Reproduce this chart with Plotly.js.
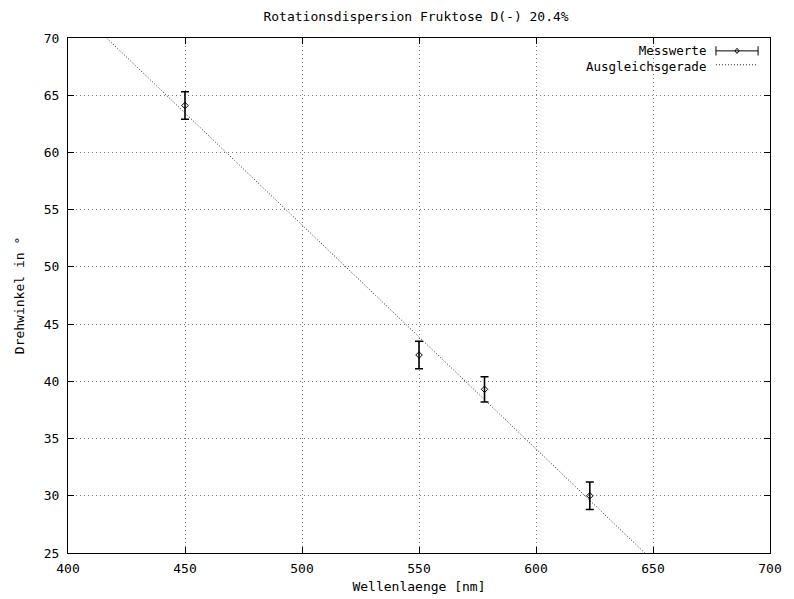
<!DOCTYPE html>
<html><head><meta charset="utf-8">
<script src="https://cdn.plot.ly/plotly-3.0.1.min.js"></script>
<style>body{margin:0;background:#fff}#plot{width:794px;height:599px}</style>
</head><body><div id="plot"></div>
<script>
var wavelength = [450, 550, 578, 623];
var angle = [64.1, 42.3, 39.3, 30.0];
var angleErr = [1.2, 1.2, 1.1, 1.2];
var fitX = [416.5, 646.5];
var fitY = [70, 25];
var xTicks = [400, 450, 500, 550, 600, 650, 700];
var yTicks = [25, 30, 35, 40, 45, 50, 55, 60, 65, 70];

var F = {family: 'DejaVu Sans Mono, monospace', size: 13, color: '#000'};
var FL = {family: 'DejaVu Sans Mono, monospace', size: 12.5, color: '#000'};
var traces = [
  {x: fitX, y: fitY, type: 'scatter', mode: 'lines', name: 'Ausgleichsgerade',
   line: {color: '#222', width: 1, dash: '1px,2px'}, showlegend: false},
  {x: wavelength, y: angle, type: 'scatter', mode: 'markers', name: 'Messwerte',
   marker: {symbol: 'diamond-open', size: 5, color: '#000', line: {width: 1, color: '#000'}},
   error_y: {type: 'data', array: angleErr, visible: true, color: '#000', thickness: 1.6, width: 4},
   showlegend: false}
];
var layout = {
  width: 794, height: 599,
  margin: {l: 68, r: 24, t: 38, b: 46},
  paper_bgcolor: '#fff', plot_bgcolor: '#fff',
  font: F,
  title: {text: 'Rotationsdispersion Fruktose D(-) 20.4%', font: F, x: 0.524, xanchor: 'center', y: 0.973, yanchor: 'middle'},
  xaxis: {range: [400, 700], tickvals: xTicks, ticktext: xTicks.map(String),
    showgrid: true, gridcolor: '#777', griddash: '1px,3px', gridwidth: 1,
    showline: true, linecolor: '#000', linewidth: 1, mirror: 'allticks',
    ticks: 'inside', ticklen: 6, tickcolor: '#000', zeroline: false,
    ticklabelstandoff: 3,
    title: {text: 'Wellenlaenge [nm]', font: F, standoff: 7}},
  yaxis: {range: [25, 70], tickvals: yTicks, ticktext: yTicks.map(String),
    showgrid: true, gridcolor: '#777', griddash: '1px,3px', gridwidth: 1,
    showline: true, linecolor: '#000', linewidth: 1, mirror: 'allticks',
    ticks: 'inside', ticklen: 6, tickcolor: '#000', zeroline: false,
    ticklabelstandoff: 5,
    title: {text: 'Drehwinkel in °', font: F, standoff: 16}},
  annotations: [
    {xref: 'paper', yref: 'paper', x: 0.911, y: 0.961, xanchor: 'right', yanchor: 'middle', align: 'right',
     text: 'Messwerte<br>Ausgleichsgerade', showarrow: false, font: FL}
  ],
  shapes: [
    {type: 'line', xref: 'paper', yref: 'paper', x0: 0.923, x1: 0.983, y0: 0.975, y1: 0.975, line: {color: '#000', width: 1}},
    {type: 'line', xref: 'paper', yref: 'paper', x0: 0.923, x1: 0.923, y0: 0.966, y1: 0.984, line: {color: '#000', width: 1}},
    {type: 'line', xref: 'paper', yref: 'paper', x0: 0.983, x1: 0.983, y0: 0.966, y1: 0.984, line: {color: '#000', width: 1}},
    {type: 'path', xref: 'paper', yref: 'paper', path: 'M 0.953 0.980 L 0.956 0.975 L 0.953 0.970 L 0.950 0.975 Z', line: {color: '#000', width: 1}},
    {type: 'line', xref: 'paper', yref: 'paper', x0: 0.923, x1: 0.983, y0: 0.948, y1: 0.948, line: {color: '#222', width: 1, dash: '1px,2px'}}
  ]
};
Plotly.newPlot('plot', traces, layout, {displayModeBar: false, staticPlot: true});
</script></body></html>
